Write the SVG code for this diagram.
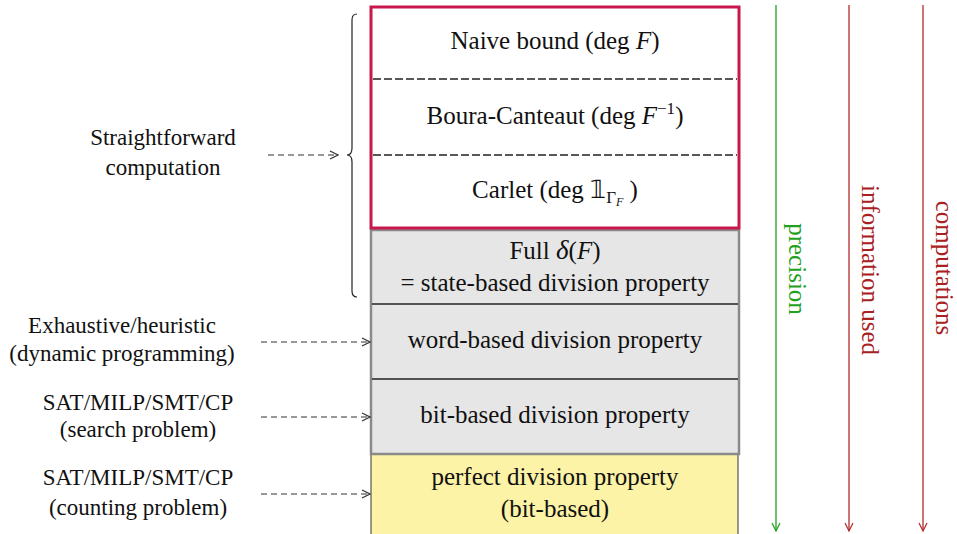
<svg xmlns="http://www.w3.org/2000/svg" width="957" height="534" viewBox="0 0 957 534">
<defs>
<style>
text{font-family:"Liberation Serif","Times New Roman",serif;font-size:25px;fill:#111}
.l{font-size:23px}
.c{text-anchor:middle}
.i{font-style:italic}
.dash{stroke:#333;stroke-width:1.2;stroke-dasharray:6,4;fill:none}
.sep{stroke:#222;stroke-width:1.6}
.dsep{stroke:#222;stroke-width:1.3;stroke-dasharray:8,3}
</style>
<marker id="ah" viewBox="0 0 10 10" refX="9" refY="5" markerWidth="10" markerHeight="10" markerUnits="userSpaceOnUse" orient="auto"><path d="M1,1 L9,5 L1,9" fill="none" stroke="#333" stroke-width="1.2"/></marker>
<marker id="ahg" viewBox="0 0 10 10" refX="9" refY="5" markerWidth="10" markerHeight="10" markerUnits="userSpaceOnUse" orient="auto"><path d="M1,1 L9,5 L1,9" fill="none" stroke="#1fa01f" stroke-width="1.2"/></marker>
<marker id="ahr" viewBox="0 0 10 10" refX="9" refY="5" markerWidth="10" markerHeight="10" markerUnits="userSpaceOnUse" orient="auto"><path d="M1,1 L9,5 L1,9" fill="none" stroke="#b22a2a" stroke-width="1.2"/></marker>
</defs>
<rect width="957" height="534" fill="#fff"/>

<g id="yellow-box">
<rect x="371" y="454" width="367" height="82" fill="#fdf3a6" stroke="#555" stroke-width="1.2"/>
<text class="c" x="555" y="485">perfect division property</text>
<text class="c" x="555" y="517">(bit-based)</text>
</g>

<g id="gray-box">
<rect x="371" y="230" width="368" height="224" fill="#e6e6e6" stroke="#8a8a8a" stroke-width="2.5"/>
<line class="sep" x1="372" y1="304" x2="738" y2="304"/>
<line class="sep" x1="372" y1="379" x2="738" y2="379"/>
<text class="c" x="555" y="259">Full <tspan class="i" font-size="27">δ</tspan>(<tspan class="i">F</tspan>)</text>
<text class="c" x="555" y="291">= state-based division property</text>
<text class="c" x="555" y="348">word-based division property</text>
<text class="c" x="555" y="423">bit-based division property</text>
</g>

<g id="red-box">
<rect x="371" y="7" width="368" height="221" fill="#fff" stroke="#c8174c" stroke-width="3"/>
<line class="dsep" x1="373" y1="79" x2="737" y2="79"/>
<line class="dsep" x1="373" y1="155" x2="737" y2="155"/>
<text class="c" x="555" y="49">Naive bound (deg<tspan class="i"> F</tspan>)</text>
<text class="c" x="555" y="124">Boura-Canteaut (deg<tspan class="i"> F</tspan><tspan font-size="17" dy="-10">−1</tspan><tspan dy="10">)</tspan></text>
<text class="c" x="555" y="198">Carlet (deg 𝟙<tspan font-size="17" dy="5">Γ</tspan><tspan class="i" font-size="12" dy="3">F</tspan><tspan dy="-8"> )</tspan></text>
</g>

<g id="left-labels">
<text class="c l" x="163" y="145">Straightforward</text>
<text class="c l" x="163" y="175">computation</text>
<text class="c l" x="122" y="333">Exhaustive/heuristic</text>
<text class="c l" x="122" y="361">(dynamic programming)</text>
<text class="c l" x="138" y="410">SAT/MILP/SMT/CP</text>
<text class="c l" x="138" y="437">(search problem)</text>
<text class="c l" x="138" y="485">SAT/MILP/SMT/CP</text>
<text class="c l" x="138" y="515">(counting problem)</text>
</g>

<g id="brace">
<path d="M357,14 Q352,14 352,20 L352,148 Q352,155 347,155 Q352,155 352,162 L352,291 Q352,297 357,297" fill="none" stroke="#222" stroke-width="1.2"/>
</g>

<g id="connectors">
<line class="dash" x1="268" y1="155" x2="338" y2="155" marker-end="url(#ah)"/>
<line class="dash" x1="261" y1="342" x2="370" y2="342" marker-end="url(#ah)"/>
<line class="dash" x1="261" y1="417" x2="370" y2="417" marker-end="url(#ah)"/>
<line class="dash" x1="261" y1="494" x2="370" y2="494" marker-end="url(#ah)"/>
<line x1="776" y1="5" x2="776" y2="531" stroke="#1fa01f" stroke-width="1.3" marker-end="url(#ahg)"/>
<line x1="849" y1="5" x2="849" y2="531" stroke="#b22a2a" stroke-width="1.3" marker-end="url(#ahr)"/>
<line x1="923" y1="5" x2="923" y2="531" stroke="#b22a2a" stroke-width="1.3" marker-end="url(#ahr)"/>
</g>

<g id="axis-labels">
<text class="c" transform="translate(789,269) rotate(90)" style="fill:#1fa01f">precision</text>
<text class="c" transform="translate(862,270) rotate(90)" style="fill:#a82020">information used</text>
<text class="c" transform="translate(936,268) rotate(90)" style="fill:#a82020">computations</text>
</g>
</svg>
